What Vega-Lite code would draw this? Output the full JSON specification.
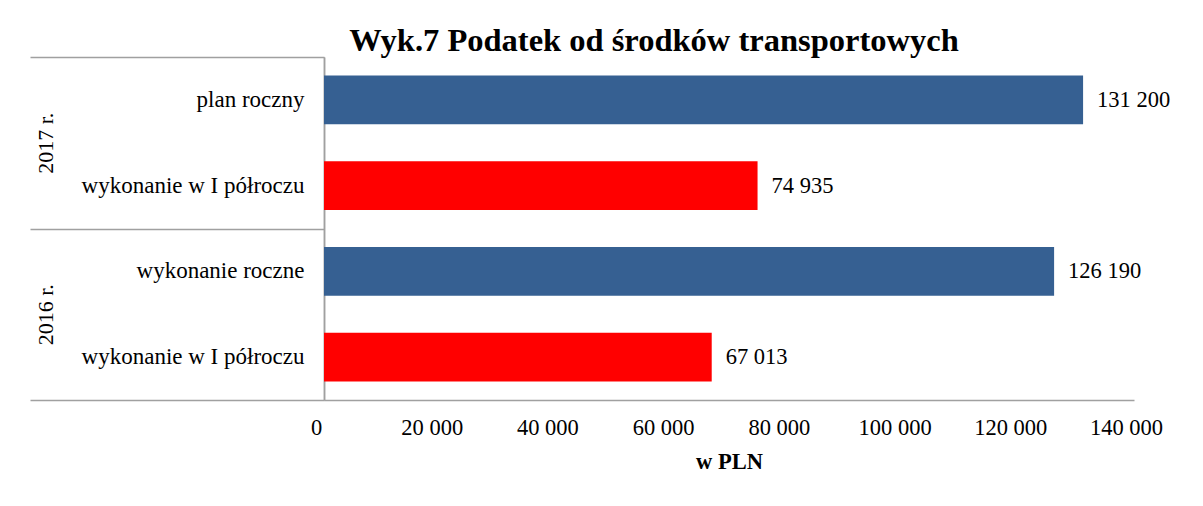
{
  "$schema": "https://vega.github.io/schema/vega-lite/v6.json",
  "width": 810,
  "height": 343,
  "autosize": "none",
  "padding": {"left": 324, "top": 57, "right": 69, "bottom": 106},
  "background": "white",
  "config": {
    "view": {"stroke": null},
    "font": "Liberation Serif",
    "locale": {"number": {"decimal": ",", "thousands": " ", "grouping": [3], "currency": ["", " zł"]}}
  },
  "title": {
    "text": "Wyk.7 Podatek od środków transportowych",
    "font": "Liberation Serif",
    "fontSize": 32.5,
    "fontWeight": "bold",
    "color": "black",
    "anchor": "middle",
    "frame": "group",
    "dx": -75,
    "baseline": "alphabetic",
    "offset": -27
  },
  "data": {
    "values": [
      {"year": "2017 r.", "label": "2017|plan roczny", "value": 131200, "type": "plan"},
      {"year": "2017 r.", "label": "2017|wykonanie w I półroczu", "value": 74935, "type": "half"},
      {"year": "2016 r.", "label": "2016|wykonanie roczne", "value": 126190, "type": "plan"},
      {"year": "2016 r.", "label": "2016|wykonanie w I półroczu", "value": 67013, "type": "half"}
    ]
  },
  "layer": [
    {
      "layer": [
        {
          "mark": {"type": "bar"},
          "encoding": {
            "y": {
              "field": "label",
              "type": "nominal",
              "sort": null,
              "scale": {"paddingInner": 0.4286, "paddingOuter": 0.2143},
              "axis": {
                "orient": "left",
                "title": null,
                "ticks": false,
                "labelExpr": "split(datum.label, '|')[1]",
                "labelFont": "Liberation Serif",
                "labelFontSize": 23,
                "labelColor": "black",
                "labelPadding": 20,
                "labelLimit": 400,
                "domainColor": "#a0a0a0",
                "domainWidth": 1.5
              }
            },
            "x": {
              "field": "value",
              "type": "quantitative",
              "scale": {"domain": [0, 140000], "nice": false},
              "axis": {
                "values": [0, 20000, 40000, 60000, 80000, 100000, 120000, 140000],
                "format": ",.0f",
                "ticks": false,
                "grid": false,
                "labelFont": "Liberation Serif",
                "labelFontSize": 22.5,
                "labelColor": "black",
                "labelOffset": -8,
                "labelPadding": 16,
                "labelFlush": false,
                "domainColor": "#a0a0a0",
                "domainWidth": 1.5,
                "title": "w PLN",
                "titleFont": "Liberation Serif",
                "titleFontSize": 22.5,
                "titleFontWeight": "bold",
                "titleColor": "black",
                "titlePadding": 12
              }
            },
            "color": {
              "field": "type",
              "type": "nominal",
              "scale": {"domain": ["plan", "half"], "range": ["#366092", "#FF0000"]},
              "legend": null
            }
          }
        },
        {
          "mark": {"type": "text", "align": "left", "baseline": "middle", "dx": 14, "font": "Liberation Serif", "fontSize": 22.5, "color": "black"},
          "encoding": {
            "y": {"field": "label", "type": "nominal", "sort": null},
            "x": {"field": "value", "type": "quantitative"},
            "text": {"field": "value", "type": "quantitative", "format": ",.0f"}
          }
        }
      ]
    },
    {
      "mark": {"type": "point", "opacity": 0},
      "encoding": {
        "y": {
          "field": "year",
          "type": "nominal",
          "sort": ["2017 r.", "2016 r."],
          "scale": {"paddingInner": 0, "paddingOuter": 0},
          "axis": {
            "orient": "left",
            "offset": 0,
            "title": null,
            "tickBand": "extent",
            "tickSize": 294,
            "tickColor": "#a0a0a0",
            "tickWidth": 1.5,
            "domainColor": "#a0a0a0",
            "domainWidth": 1.5,
            "labelAngle": 270,
            "labelAlign": "center",
            "labelBaseline": "middle",
            "labelPadding": -15,
            "labelFont": "Liberation Serif",
            "labelFontSize": 22,
            "labelColor": "black"
          }
        }
      }
    }
  ],
  "resolve": {"scale": {"y": "independent"}, "axis": {"y": "independent"}}
}
